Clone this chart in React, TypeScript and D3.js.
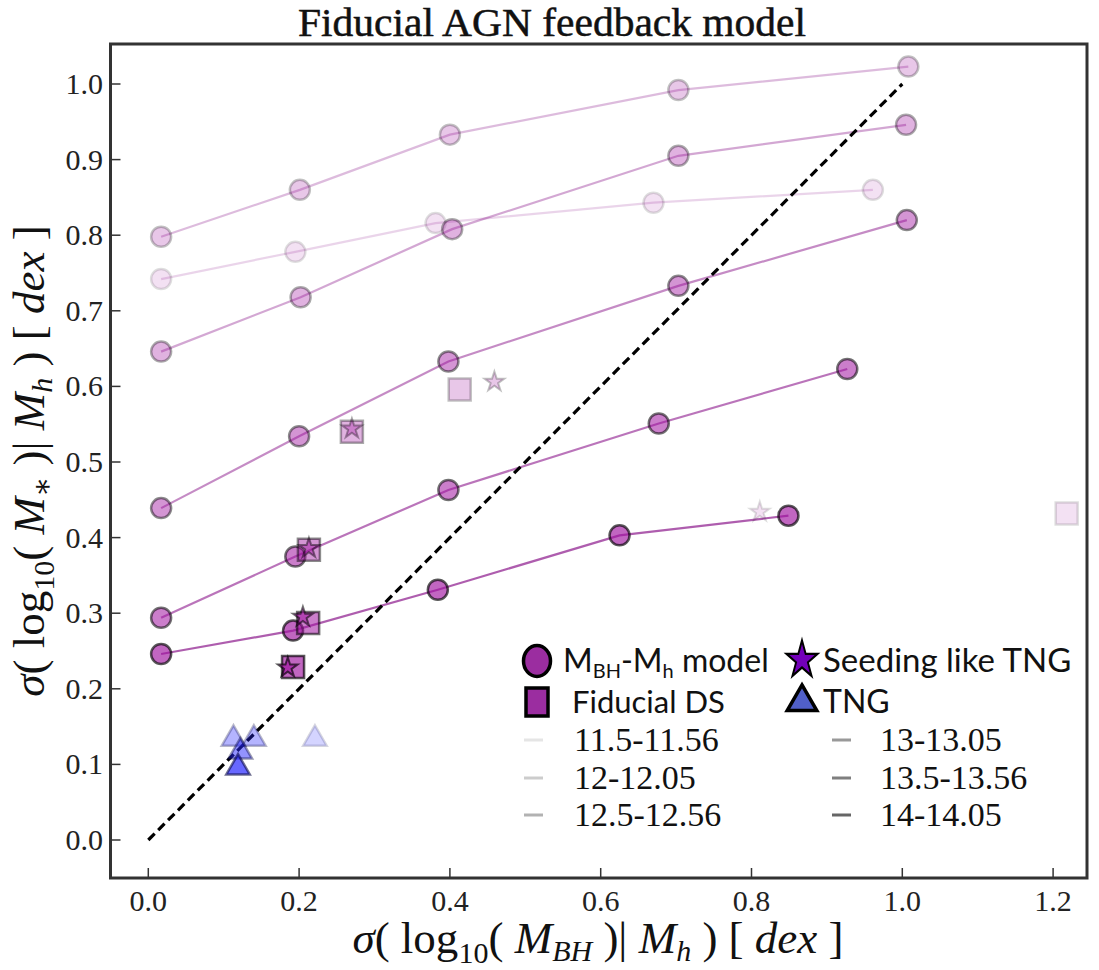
import React from "react";
import * as d3 from "d3";

const W = 1099;
const H = 970;

// ---------- data ----------
const X_TICKS = [0.0, 0.2, 0.4, 0.6, 0.8, 1.0, 1.2];
const Y_TICKS = [0.0, 0.1, 0.2, 0.3, 0.4, 0.5, 0.6, 0.7, 0.8, 0.9, 1.0];

const BIN_LABELS = ["11.5-11.56", "12-12.05", "12.5-12.56", "13-13.05", "13.5-13.56", "14-14.05"];

// M_BH - M_h model (one line per halo-mass bin)
const MODEL_X_115 = [0.017, 0.195, 0.381, 0.670, 0.961];
const MODEL_Y_115 = [0.742, 0.778, 0.816, 0.843, 0.860];
const MODEL_X_120 = [0.017, 0.201, 0.400, 0.703, 1.008];
const MODEL_Y_120 = [0.798, 0.860, 0.933, 0.992, 1.023];
const MODEL_X_125 = [0.017, 0.202, 0.403, 0.703, 1.005];
const MODEL_Y_125 = [0.646, 0.718, 0.808, 0.905, 0.946];
const MODEL_X_130 = [0.017, 0.200, 0.398, 0.703, 1.006];
const MODEL_Y_130 = [0.439, 0.534, 0.633, 0.733, 0.820];
const MODEL_X_135 = [0.017, 0.195, 0.398, 0.677, 0.927];
const MODEL_Y_135 = [0.294, 0.375, 0.463, 0.551, 0.623];
const MODEL_X_140 = [0.017, 0.192, 0.384, 0.625, 0.849];
const MODEL_Y_140 = [0.246, 0.277, 0.331, 0.403, 0.429];

// Fiducial DS (squares), one per bin
const DS_X = [1.218, 0.413, 0.270, 0.213, 0.212, 0.192];
const DS_Y = [0.432, 0.596, 0.540, 0.384, 0.287, 0.229];

// Seeding like TNG (stars), one per bin
const SEED_X = [0.811, 0.459, 0.270, 0.213, 0.205, 0.185];
const SEED_Y = [0.434, 0.606, 0.544, 0.386, 0.295, 0.228];

// TNG (triangles)
const TNG_X = [0.221, 0.113, 0.140, 0.122, 0.119];
const TNG_Y = [0.135, 0.135, 0.135, 0.118, 0.097];
const TNG_BIN = [0, 1, 1, 3, 5];

// one-to-one line
const ONE_TO_ONE = [0, 1];

// ---------- styles ----------
const BIN_ALPHA = [0.13, 0.24, 0.33, 0.45, 0.55, 0.65];
const TNG_ALPHA = [0.2, 0.35, 0.35, 0.5, 0.65, 0.7];
const PURPLE = "128,0,128";
const PURPLE_FILL = "160,20,160";
const SERIF = "'Liberation Serif', 'DejaVu Serif', serif";
const SANS = "Lato, 'Open Sans', sans-serif";

const MODEL_X = [MODEL_X_115, MODEL_X_120, MODEL_X_125, MODEL_X_130, MODEL_X_135, MODEL_X_140];
const MODEL_Y = [MODEL_Y_115, MODEL_Y_120, MODEL_Y_125, MODEL_Y_130, MODEL_Y_135, MODEL_Y_140];

const FRAME = { left: 110.5, right: 1087, top: 44, bottom: 878 };

function AxisLabel({ sub }: { sub: string }) {
  const small = 30;
  return (
    <>
      <tspan fontStyle="italic">σ</tspan>
      <tspan>( log</tspan>
      <tspan fontSize={small} dy={10}>10</tspan>
      <tspan dy={-10}>( </tspan>
      <tspan fontStyle="italic">M</tspan>
      <tspan fontStyle="italic" fontSize={small} dy={8}>{sub}</tspan>
      <tspan dy={-8}> )| </tspan>
      <tspan fontStyle="italic">M</tspan>
      <tspan fontStyle="italic" fontSize={small} dy={8}>h</tspan>
      <tspan dy={-8}> ) [ </tspan>
      <tspan fontStyle="italic">dex</tspan>
      <tspan> ]</tspan>
    </>
  );
}

export default function App() {
  const x = d3.scaleLinear().domain([0, 1.2]).range([148.3, 148.3 + 754 * 1.2]);
  const y = d3.scaleLinear().domain([0, 1]).range([840, 84]);
  const line = d3
    .line<[number, number]>()
    .x((d) => x(d[0]))
    .y((d) => y(d[1]));

  const starPath = d3.symbol(d3.symbolStar, 120)()!;
  const squarePath = d3.symbol(d3.symbolSquare, 484)()!;
  const triPath = d3.symbol(d3.symbolTriangle, 240)()!;
  const legStar = d3.symbol(d3.symbolStar, 330)()!;

  const rgba = (c: string, a: number) => `rgba(${c},${a})`;

  const legendRows = [740, 778, 815];

  return (
    <svg
      width={W}
      height={H}
      style={{ position: "absolute", left: 0, top: 0, background: "#fff" }}
    >
      <rect x={0} y={0} width={W} height={H} fill="#fff" />
      {/* title */}
      <text
        x={552}
        y={36}
        textAnchor="middle"
        fontFamily={SERIF}
        fontSize={40}
        textLength={508}
        lengthAdjust="spacingAndGlyphs"
        fill="#111"
        stroke="#111"
        strokeWidth={0.5}
      >
        Fiducial AGN feedback model
      </text>

      {/* model lines */}
      {MODEL_X.map((xs, b) => (
        <path
          key={"l" + b}
          d={line(xs.map((v, i) => [v, MODEL_Y[b][i]]) as [number, number][])!}
          fill="none"
          stroke={rgba(PURPLE, BIN_ALPHA[b] * 0.9 + 0.05)}
          strokeWidth={2.2}
        />
      ))}

      {/* one-to-one dashed line */}
      <line
        x1={x(ONE_TO_ONE[0])}
        y1={y(ONE_TO_ONE[0])}
        x2={x(ONE_TO_ONE[1])}
        y2={y(ONE_TO_ONE[1])}
        stroke="#000"
        strokeWidth={3.2}
        strokeDasharray="9,5"
      />

      {/* model circles */}
      {MODEL_X.map((xs, b) =>
        xs.map((v, i) => (
          <circle
            key={"c" + b + "-" + i}
            cx={x(v)}
            cy={y(MODEL_Y[b][i])}
            r={10}
            fill={rgba(PURPLE_FILL, BIN_ALPHA[b])}
            stroke={rgba("0,0,0", BIN_ALPHA[b])}
            strokeWidth={2.5}
          />
        ))
      )}

      {/* Fiducial DS squares */}
      {DS_X.map((v, i) => (
        <path
          key={"s" + i}
          d={squarePath}
          transform={`translate(${x(v)},${y(DS_Y[i])})`}
          fill={rgba(PURPLE_FILL, BIN_ALPHA[i])}
          stroke={rgba("0,0,0", BIN_ALPHA[i])}
          strokeWidth={2.5}
        />
      ))}

      {/* Seeding like TNG stars */}
      {SEED_X.map((v, i) => (
        <path
          key={"st" + i}
          d={starPath}
          transform={`translate(${x(v)},${y(SEED_Y[i])})`}
          fill={rgba(PURPLE_FILL, BIN_ALPHA[i])}
          stroke={rgba("0,0,0", BIN_ALPHA[i])}
          strokeWidth={2}
        />
      ))}

      {/* TNG triangles */}
      {TNG_X.map((v, i) => (
        <path
          key={"t" + i}
          d={triPath}
          transform={`translate(${x(v)},${y(TNG_Y[i]) + 1})`}
          fill={rgba("40,40,255", TNG_ALPHA[TNG_BIN[i]])}
          stroke={rgba("0,0,60", TNG_ALPHA[TNG_BIN[i]] * 0.8)}
          strokeWidth={2.5}
        />
      ))}

      {/* frame */}
      <rect
        x={FRAME.left}
        y={FRAME.top}
        width={FRAME.right - FRAME.left}
        height={FRAME.bottom - FRAME.top}
        fill="none"
        stroke="#333"
        strokeWidth={3}
      />

      {/* x ticks */}
      {X_TICKS.map((t) => (
        <g key={"xt" + t}>
          <line x1={x(t)} x2={x(t)} y1={FRAME.bottom} y2={FRAME.bottom - 10} stroke="#333" strokeWidth={1.5} />
          <text x={x(t)} y={911} textAnchor="middle" fontFamily={SERIF} fontSize={30} fill="#222">
            {t.toFixed(1)}
          </text>
        </g>
      ))}
      {/* y ticks */}
      {Y_TICKS.map((t) => (
        <g key={"yt" + t}>
          <line x1={FRAME.left} x2={FRAME.left + 10} y1={y(t)} y2={y(t)} stroke="#333" strokeWidth={1.5} />
          <text x={103} y={y(t) + 10} textAnchor="end" fontFamily={SERIF} fontSize={30} fill="#222">
            {t.toFixed(1)}
          </text>
        </g>
      ))}

      {/* x label */}
      <text x={598} y={953} textAnchor="middle" fontFamily={SERIF} fontSize={45} fill="#111">
        <AxisLabel sub="BH" />
      </text>

      {/* y label */}
      <text
        transform="translate(44,461) rotate(-90)"
        textAnchor="middle"
        fontFamily={SERIF}
        fontSize={45}
        fill="#111"
      >
        <AxisLabel sub="∗" />
      </text>

      {/* legend: markers */}
      <ellipse cx={537} cy={661} rx={13.5} ry={15.5} fill="rgb(155,45,160)" stroke="#000" strokeWidth={3.5} />
      <text x={563} y={672} fontFamily={SANS} fontSize={32} fill="#111">
        <tspan>M</tspan>
        <tspan fontSize={20} dy={6}>BH</tspan>
        <tspan dy={-6}>-M</tspan>
        <tspan fontSize={20} dy={6}>h</tspan>
        <tspan dy={-6}> model</tspan>
      </text>
      <rect x={526} y={688} width={22} height={28} fill="rgb(155,45,160)" stroke="#000" strokeWidth={3.5} />
      <text x={572} y={713} fontFamily={SANS} fontSize={31} fill="#111">
        Fiducial DS
      </text>
      <path d={legStar} transform="translate(802,660) scale(0.95,1.15)" fill="rgb(115,0,185)" stroke="#000" strokeWidth={2} />
      <text x={823} y={672} fontFamily={SANS} fontSize={33} fill="#111">
        Seeding like TNG
      </text>
      <path
        d={d3.symbol(d3.symbolTriangle, 380)()!}
        transform="translate(802,702)"
        fill="rgb(80,95,200)"
        stroke="#000"
        strokeWidth={3.5}
      />
      <text x={823} y={713} fontFamily={SANS} fontSize={32} fill="#111">
        TNG
      </text>

      {/* legend: mass bins */}
      {BIN_LABELS.map((lab, i) => {
        const col = i < 3 ? 0 : 1;
        const row = i % 3;
        const lx = col === 0 ? 524 : 832;
        const tx = col === 0 ? 574 : 880;
        const ly = legendRows[row];
        return (
          <g key={"lg" + i}>
            <line x1={lx} x2={lx + 19} y1={ly} y2={ly} stroke={rgba("0,0,0", 0.1 + 0.1 * i)} strokeWidth={3} />
            <text x={tx} y={ly + 11} fontFamily={SERIF} fontSize={34} fill="#111">
              {lab}
            </text>
          </g>
        );
      })}
    </svg>
  );
}
